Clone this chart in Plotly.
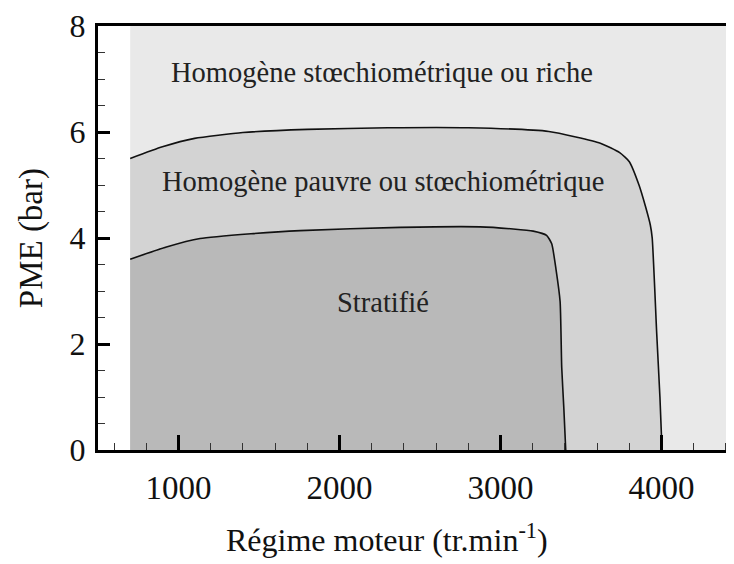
import plotly.graph_objects as go

# Boundary between "homogène stœchiométrique/riche" and "homogène pauvre/stœchiométrique"
outer_rpm = [700, 900, 1100, 1400, 1800, 2300, 2800, 3300, 3620, 3740, 3800, 3860, 3900, 3930, 3942, 3970, 3990, 4003]
outer_pme = [5.50, 5.72, 5.88, 5.99, 6.05, 6.08, 6.08, 6.01, 5.79, 5.61, 5.44, 5.00, 4.60, 4.25, 4.00, 2.20, 1.00, 0.00]

# Boundary of the stratified region
inner_rpm = [700, 925, 1134, 1450, 1755, 2376, 2873, 3078, 3203, 3286, 3318, 3345, 3370, 3380, 3393, 3405]
inner_pme = [3.60, 3.83, 3.99, 4.08, 4.14, 4.20, 4.21, 4.17, 4.13, 4.05, 3.89, 3.40, 2.80, 1.56, 0.80, 0.00]

domain_rpm = [700, 4450]
domain_pme = [0, 8]

region_labels = ["Homogène stœchiométrique ou riche", "Homogène pauvre ou stœchiométrique", "Stratifié"]
label_rpm = [2265, 2270, 2267]
label_pme = [7.12, 5.07, 2.79]

x_ticks = [1000, 2000, 3000, 4000]
y_ticks = [0, 2, 4, 6, 8]

FONT = "Liberation Serif"
LIGHT, MID, DARK = "#e9e9e9", "#d3d3d3", "#b9b9b9"

fig = go.Figure()

fig.add_trace(go.Scatter(
    x=[domain_rpm[0], domain_rpm[1], domain_rpm[1], domain_rpm[0], domain_rpm[0]],
    y=[domain_pme[0], domain_pme[0], domain_pme[1], domain_pme[1], domain_pme[0]],
    fill="toself", fillcolor=LIGHT, mode="none", showlegend=False, hoverinfo="skip"))

fig.add_trace(go.Scatter(
    x=[outer_rpm[0]] + outer_rpm + [outer_rpm[0]],
    y=[0] + outer_pme + [0],
    fill="toself", fillcolor=MID, mode="none", showlegend=False, hoverinfo="skip"))

fig.add_trace(go.Scatter(
    x=[inner_rpm[0]] + inner_rpm + [inner_rpm[0]],
    y=[0] + inner_pme + [0],
    fill="toself", fillcolor=DARK, mode="none", showlegend=False, hoverinfo="skip"))

for xs, ys in [(outer_rpm, outer_pme), (inner_rpm, inner_pme)]:
    fig.add_trace(go.Scatter(x=xs, y=ys, mode="lines",
                             line=dict(color="#111111", width=1.6, shape="spline", smoothing=0.5),
                             showlegend=False, hoverinfo="skip"))

for txt, xv, yv in zip(region_labels, label_rpm, label_pme):
    fig.add_annotation(x=xv, y=yv, text=txt, showarrow=False,
                       font=dict(family=FONT, size=28.5, color="#222222"))

fig.add_annotation(xref="paper", yref="paper", x=0.454, y=-0.208, xanchor="center", yanchor="middle",
                   text="Régime moteur (tr.min<sup>-1</sup>)", showarrow=False,
                   font=dict(family=FONT, size=32, color="#111111"))
fig.add_annotation(xref="paper", yref="paper", x=-0.105, y=0.5, xanchor="center", yanchor="middle",
                   text="PME (bar)", textangle=-90, showarrow=False,
                   font=dict(family=FONT, size=33, color="#111111"))

fig.update_xaxes(range=[500, 4450], tickvals=x_ticks, ticktext=[str(v) for v in x_ticks],
                 showgrid=False, zeroline=False, showline=True, linecolor="black", linewidth=3,
                 mirror=True, ticks="inside", ticklen=15, tickwidth=3, tickcolor="black",
                 minor=dict(ticks="inside", ticklen=7, tickwidth=1, tickcolor="#333333", dtick=200, tick0=0),
                 tickfont=dict(family=FONT, size=33, color="#111111"), ticklabelstandoff=6,
                 ticklabeloverflow="allow")
fig.update_yaxes(range=[0, 8], tickvals=y_ticks, ticktext=[str(v) for v in y_ticks],
                 showgrid=False, zeroline=False, showline=True, linecolor="black", linewidth=3,
                 ticks="inside", ticklen=12, tickwidth=3, tickcolor="black",
                 minor=dict(ticks="inside", ticklen=7, tickwidth=1, tickcolor="#333333", dtick=0.5, tick0=0),
                 tickfont=dict(family=FONT, size=32, color="#111111"), ticklabelstandoff=3,
                 ticklabeloverflow="allow")

# page body has an 8px margin: shift so the plot area lands at x 98..734, y 22..450
fig.update_layout(width=726, height=556, margin=dict(l=90, r=0, t=14, b=114),
                  plot_bgcolor="white", paper_bgcolor="white")

fig.write_html("out.html")
